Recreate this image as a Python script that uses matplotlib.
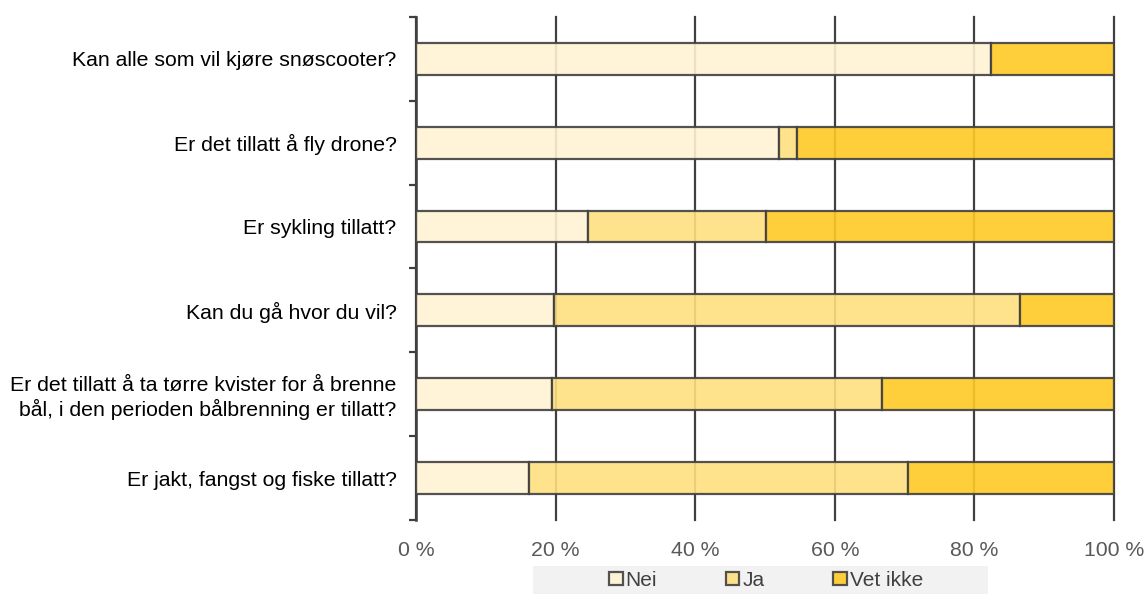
import numpy as np
import matplotlib.pyplot as plt
from matplotlib.patches import Rectangle

plt.rcParams['font.family'] = ['Liberation Sans', 'DejaVu Sans']

questions = [
    'Kan alle som vil kjøre snøscooter?',
    'Er det tillatt å fly drone?',
    'Er sykling tillatt?',
    'Kan du gå hvor du vil?',
    'Er det tillatt å ta tørre kvister for å brenne\nbål, i den perioden bålbrenning er tillatt?',
    'Er jakt, fangst og fiske tillatt?',
]
nei = [82.4, 52.0, 24.6, 19.8, 19.5, 16.2]
ja = [0.0, 2.6, 25.5, 66.7, 47.3, 54.3]
vet_ikke = [17.6, 45.4, 49.9, 13.5, 33.2, 29.5]

series = ['Nei', 'Ja', 'Vet ikke']
colors = ['#fff2d4', '#ffdf80', '#ffc926']
edge = '#404040'
tick_grey = '#595959'

fig = plt.figure(figsize=(11.47, 5.94), dpi=100)
ax = fig.add_axes([0.3627, 0.1246, 0.6085, 0.8468])

y = np.arange(len(questions))
left = np.zeros(len(questions))
for name, vals, col in zip(series, [nei, ja, vet_ikke], colors):
    vals = np.array(vals)
    # skip zero-width segments so no stray edge line is drawn
    mask = vals > 0
    ax.barh(y[mask], vals[mask], left=left[mask], height=0.38, color=col,
            edgecolor=edge, linewidth=1.6, alpha=0.9, label=name, zorder=3)
    left += vals

ax.set_xlim(0, 100)
ax.set_ylim(len(questions) - 0.5, -0.5)
ax.set_xticks(np.arange(0, 101, 20))
ax.set_xticklabels([f'{v} %' for v in range(0, 101, 20)])
ax.xaxis.grid(True, color=edge, linewidth=1.6, zorder=1)
ax.set_axisbelow(True)
for gl in ax.get_xgridlines():
    gl.set_clip_on(False)

# category ticks sit on the boundaries, labels at the bar centres
ax.set_yticks(np.arange(-0.5, len(questions) + 0.5, 1.0))
ax.set_yticklabels([])
ax.set_yticks(y, minor=True)
ax.set_yticklabels(questions, minor=True, fontsize=15.3, color='black')
ax.tick_params(axis='y', which='major', length=5, width=1.6, color=edge, direction='out')
ax.tick_params(axis='y', which='minor', length=0, pad=14)
ax.tick_params(axis='x', length=0, labelsize=15.3, labelcolor=tick_grey, pad=15)

for s in ['top', 'right', 'bottom']:
    ax.spines[s].set_visible(False)
ax.spines['left'].set_color(edge)
ax.spines['left'].set_linewidth(1.8)

# grey band behind the legend
fig.patches.append(Rectangle((533 / 1147, 0), 455 / 1147, 28 / 594,
                             transform=fig.transFigure, facecolor='#f2f2f2',
                             edgecolor='none', zorder=0))
leg = fig.legend(loc='center', bbox_to_anchor=(0.668, 0.023), ncol=3, frameon=False,
                 fontsize=15, handlelength=0.65, handleheight=0.65, handletextpad=0.15,
                 columnspacing=3.3, labelcolor='#404040')

fig.savefig('out.png', dpi=100)
